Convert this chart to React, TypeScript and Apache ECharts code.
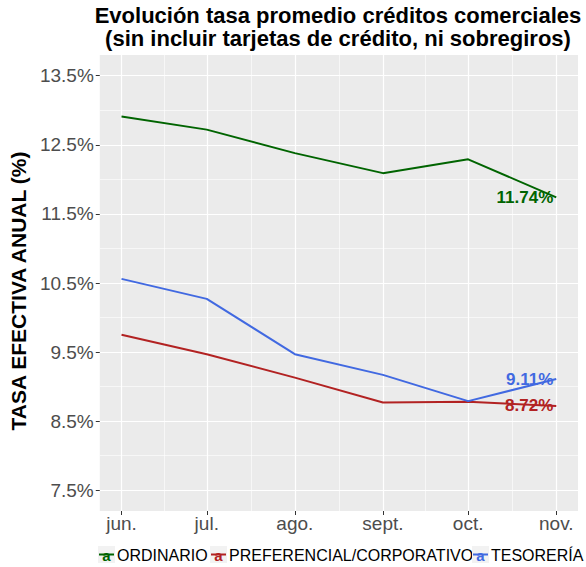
import React, { useEffect, useRef } from "react";
import * as echarts from "echarts";

const dates = ["2019-06-01", "2019-07-01", "2019-08-01", "2019-09-01", "2019-10-01", "2019-11-01"];
const monthLabels = ["jun.", "jul.", "ago.", "sept.", "oct.", "nov."];
const ordinario = [12.91, 12.72, 12.38, 12.09, 12.29, 11.74];
const preferencial = [9.75, 9.47, 9.13, 8.77, 8.78, 8.72];
const tesoreria = [10.56, 10.27, 9.47, 9.17, 8.79, 9.11];
const yTicks = [7.5, 8.5, 9.5, 10.5, 11.5, 12.5, 13.5];
const yMinorTicks = [8, 9, 10, 11, 12, 13];
const yLimits = [7.5, 13.5];

const seriesNames = ["ORDINARIO", "PREFERENCIAL/CORPORATIVO", "TESORERÍA"];
const seriesColors = ["#006400", "#B22222", "#4169E1"];

const FONT = "'Liberation Sans', Arial, Helvetica, sans-serif";

export default function App() {
  const ref = useRef<HTMLDivElement>(null);

  useEffect(() => {
    if (!ref.current) return;
    const chart = echarts.init(ref.current, null, { renderer: "svg" });

    const xs = dates.map((d) => Date.parse(d + "T00:00:00Z"));
    const xRange = xs[xs.length - 1] - xs[0];
    const xMin = xs[0] - 0.05 * xRange;
    const xMax = xs[xs.length - 1] + 0.05 * xRange;
    const xMinor = xs.slice(1).map((v, i) => (v + xs[i]) / 2);
    const yRange = yLimits[1] - yLimits[0];
    const yMin = yLimits[0] - 0.05 * yRange;
    const yMax = yLimits[1] + 0.05 * yRange;

    const allSeries = [ordinario, preferencial, tesoreria];

    const series = allSeries.map((vals, si) => ({
      type: "line",
      name: seriesNames[si],
      xAxisIndex: 0,
      yAxisIndex: 0,
      symbol: "circle",
      symbolSize: 0,
      showSymbol: true,
      lineStyle: { color: seriesColors[si], width: 2 },
      itemStyle: { color: seriesColors[si] },
      data: vals.map((v, i) => {
        const item: any = { value: [xs[i], v] };
        if (i === vals.length - 1) {
          item.label = {
            show: true,
            position: "left",
            distance: 3,
            formatter: v.toFixed(2) + "%",
            color: seriesColors[si],
            fontWeight: "bold",
            fontSize: 17,
            fontFamily: FONT,
          };
        }
        return item;
      }),
      z: 3,
    }));

    const legendGraphics: any[] = [];
    const legendItems = [
      { keyX: 98, textX: 117 },
      { keyX: 210, textX: 229 },
      { keyX: 472, textX: 491 },
    ];
    legendItems.forEach((it, i) => {
      legendGraphics.push(
        { type: "rect", shape: { x: it.keyX, y: 546, width: 17, height: 17 }, style: { fill: "#F2F2F2" } },
        { type: "line", shape: { x1: it.keyX + 1, y1: 554.5, x2: it.keyX + 16, y2: 554.5 }, style: { stroke: seriesColors[i], lineWidth: 2 } },
        {
          type: "text",
          x: it.keyX + 8.5,
          y: 555,
          style: { text: "a", fill: seriesColors[i], fontWeight: "bold", fontSize: 15, fontFamily: FONT, align: "center", verticalAlign: "middle" },
        },
        {
          type: "text",
          x: it.textX,
          y: 555,
          style: { text: seriesNames[i], fill: "#000000", fontSize: 16, fontFamily: FONT, align: "left", verticalAlign: "middle" },
        }
      );
    });

    chart.setOption({
      animation: false,
      backgroundColor: "#FFFFFF",
      title: {
        text: "Evolución tasa promedio créditos comerciales\n(sin incluir tarjetas de crédito, ni sobregiros)",
        left: 338,
        top: 4,
        textAlign: "center",
        padding: 0,
        textStyle: { fontFamily: FONT, fontWeight: "bold", fontSize: 22, color: "#000000", lineHeight: 23 },
      },
      grid: { left: 99, right: 8, top: 55, bottom: 56, show: true, backgroundColor: "#EBEBEB", borderWidth: 0 },
      xAxis: [
        {
          type: "value",
          min: xMin,
          max: xMax,
          axisLine: { show: false },
          axisTick: { show: true, length: 4, lineStyle: { color: "#333333", width: 1 }, customValues: xs },
          axisLabel: {
            customValues: xs,
            color: "#4D4D4D",
            fontSize: 19,
            fontFamily: FONT,
            margin: 3,
            formatter: (v: number) => {
              const idx = xs.findIndex((x) => Math.abs(x - v) < 1000);
              return idx >= 0 ? monthLabels[idx] : "";
            },
          },
          splitLine: { show: true, lineStyle: { color: "#FFFFFF", width: 1.2 } },
          z: 1,
        },
        {
          type: "value",
          min: xMin,
          max: xMax,
          axisLine: { show: false },
          axisTick: { show: false, customValues: xMinor },
          axisLabel: { show: false, customValues: xMinor },
          splitLine: { show: true, lineStyle: { color: "#FFFFFF", width: 0.6 } },
          z: 1,
        },
      ],
      yAxis: [
        {
          type: "value",
          min: yMin,
          max: yMax,
          name: "TASA EFECTIVA ANUAL (%)",
          nameLocation: "middle",
          nameGap: 66,
          nameTextStyle: { fontFamily: FONT, fontWeight: "bold", fontSize: 21, color: "#000000", padding: [0, 16, 0, 0] },
          axisLine: { show: false },
          axisTick: { show: true, length: 4, lineStyle: { color: "#333333", width: 1 }, customValues: yTicks },
          axisLabel: {
            customValues: yTicks,
            color: "#4D4D4D",
            fontSize: 19,
            fontFamily: FONT,
            margin: 6,
            formatter: (v: number) => v.toFixed(1) + "%",
          },
          splitLine: { show: true, lineStyle: { color: "#FFFFFF", width: 1.2 } },
        },
        {
          type: "value",
          min: yMin,
          max: yMax,
          axisLine: { show: false },
          axisTick: { show: false, customValues: yMinorTicks },
          axisLabel: { show: false, customValues: yMinorTicks },
          splitLine: { show: true, lineStyle: { color: "#FFFFFF", width: 0.6 } },
        },
      ],
      series,
      graphic: legendGraphics,
    });

    return () => chart.dispose();
  }, []);

  return <div ref={ref} style={{ position: "fixed", left: 0, top: 0, width: 586, height: 567 }} />;
}
